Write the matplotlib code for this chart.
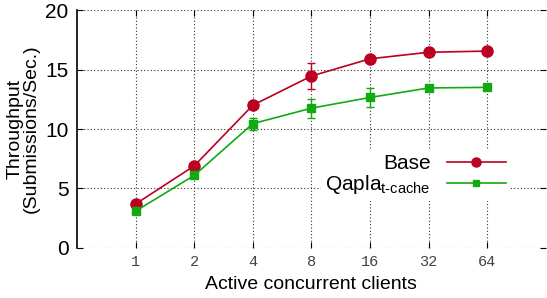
import matplotlib
matplotlib.use("Agg")
import matplotlib.pyplot as plt
from matplotlib.lines import Line2D
import numpy as np

plt.rcParams['font.family'] = ['Liberation Sans', 'DejaVu Sans']
plt.rcParams['mathtext.fontset'] = 'custom'
plt.rcParams['mathtext.rm'] = 'Liberation Sans'
plt.rcParams['mathtext.it'] = 'Liberation Sans'

clients = ['1', '2', '4', '8', '16', '32', '64']
base = [3.7, 6.9, 12.0, 14.45, 15.9, 16.45, 16.55]
base_err = [0, 0, 0, 1.1, 0, 0, 0]
qapla = [3.1, 6.1, 10.45, 11.75, 12.65, 13.45, 13.5]
qapla_err = [0, 0, 0.5, 0.8, 0.8, 0, 0]

red = '#bb0022'
green = '#11aa11'

fig = plt.figure(figsize=(5.47, 2.98), dpi=100)
ax = fig.add_axes([0.1408, 0.1678, 0.857, 0.7986])

x = np.arange(1, len(clients) + 1)
ax.errorbar(x, base, yerr=base_err, color=red, marker='o', markersize=8,
            lw=1.2, capsize=3, elinewidth=1, zorder=3)
ax.errorbar(x, qapla, yerr=qapla_err, color=green, marker='s', markersize=5.8,
            lw=1.2, capsize=3, elinewidth=1, zorder=3)

ax.set_xlim(0, 8)
ax.set_ylim(0, 20)
ax.set_xticks(x)
ax.set_xticklabels(clients, family='Liberation Mono', fontsize=11, color='#444444')
ax.set_yticks([0, 5, 10, 15, 20])
ax.tick_params(axis='y', labelsize=15, direction='in', length=4, right=True, pad=6)
ax.tick_params(axis='x', direction='in', length=4, top=True, pad=5)
ax.grid(True, linestyle=(0, (1, 2)), color='#333333', lw=0.8)
for s in ['top', 'right', 'bottom']:
    ax.spines[s].set_visible(False)
ax.spines['left'].set_linewidth(1.2)

ax.set_xlabel('Active concurrent clients', fontsize=14, labelpad=5)
ax.set_ylabel('Throughput\n(Submissions/Sec.)', fontsize=14, labelpad=4, linespacing=0.95)

handles = [Line2D([], [], color=red, marker='o', markersize=6.5, lw=1.2),
           Line2D([], [], color=green, marker='s', markersize=5, lw=1.2)]
labels = ['Base', r'Qapla$_{\text{t-cache}}$']
leg = ax.legend(handles, labels, loc='center', bbox_to_anchor=(0.722, 0.305), markerfirst=False,
                frameon=True, fancybox=False, edgecolor='none', facecolor='white', framealpha=1,
                fontsize=15, handlelength=2.8, borderpad=0.2, labelspacing=0.0, handletextpad=0.8)
leg.set_zorder(5)

fig.savefig('out.png', dpi=100)
